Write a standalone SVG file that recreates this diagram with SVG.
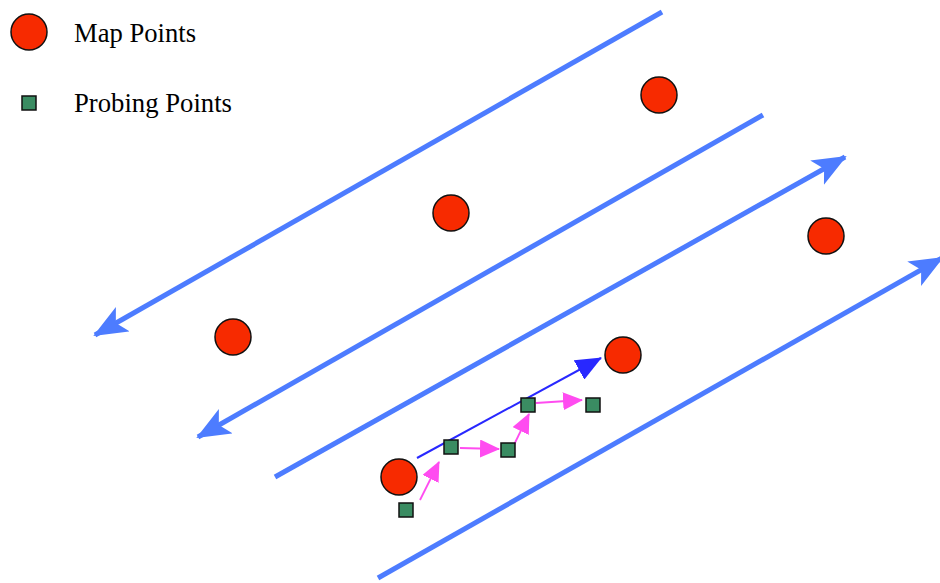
<svg xmlns="http://www.w3.org/2000/svg" width="940" height="583" viewBox="0 0 940 583">
<style>
.lbl{font-family:"Liberation Serif","Times New Roman",serif;font-size:27px;fill:#000}
.mp{fill:#f72a00;stroke:#111;stroke-width:1.5}
.pp{fill:#3a8c62;stroke:#111;stroke-width:1.5}
.big{stroke:#4d7cff;fill:none;stroke-width:5}
.blue{stroke:#2828ff;fill:none;stroke-width:2}
.pink{stroke:#ff4cf0;fill:none;stroke-width:1.8}
</style>
<defs>
<marker id="aBig" markerUnits="userSpaceOnUse" markerWidth="34" markerHeight="28" viewBox="0 0 34 28" refX="32" refY="14" orient="auto">
<path d="M0,0 L34,14 L0,28 L8,14 z" fill="#4d7cff"/>
</marker>
<marker id="aBlue" markerUnits="userSpaceOnUse" markerWidth="26" markerHeight="22" viewBox="0 0 26 22" refX="25" refY="11" orient="auto">
<path d="M0,0 L26,11 L0,22 z" fill="#2828ff"/>
</marker>
<marker id="aPink" markerUnits="userSpaceOnUse" markerWidth="20" markerHeight="18" viewBox="0 0 20 18" refX="19" refY="9" orient="auto">
<path d="M0,0 L20,9 L0,18 z" fill="#ff4cf0"/>
</marker>
</defs>
<g id="legend">
<circle class="mp" cx="29" cy="32" r="18"/>
<text class="lbl" x="74" y="42" textLength="122" lengthAdjust="spacingAndGlyphs">Map Points</text>
<rect class="pp" x="22" y="96" width="14" height="14"/>
<text class="lbl" x="74" y="112" textLength="158" lengthAdjust="spacingAndGlyphs">Probing Points</text>
</g>
<g id="connectors">
<line class="big" x1="662" y1="12" x2="95" y2="335" marker-end="url(#aBig)"/>
<line class="big" x1="763" y1="115" x2="198" y2="437" marker-end="url(#aBig)"/>
<line class="big" stroke-width="4" x1="275" y1="477" x2="845" y2="157" marker-end="url(#aBig)"/>
<line class="big" stroke-width="5.5" x1="378" y1="578" x2="942" y2="258" marker-end="url(#aBig)"/>
<line class="blue" x1="417" y1="458" x2="601" y2="358" marker-end="url(#aBlue)"/>
<line class="pink" x1="420" y1="500" x2="439" y2="462" marker-end="url(#aPink)"/>
<line class="pink" x1="460" y1="448" x2="499" y2="449" marker-end="url(#aPink)"/>
<line class="pink" x1="510" y1="453" x2="529" y2="414" marker-end="url(#aPink)"/>
<line class="pink" x1="536" y1="403" x2="582" y2="400" marker-end="url(#aPink)"/>
</g>
<g id="map-points">
<circle class="mp" cx="659" cy="95" r="18"/>
<circle class="mp" cx="451" cy="213" r="18"/>
<circle class="mp" cx="233" cy="337" r="18"/>
<circle class="mp" cx="826" cy="236" r="18"/>
<circle class="mp" cx="623" cy="355" r="18"/>
<circle class="mp" cx="399" cy="477" r="18"/>
</g>
<g id="probing-points">
<rect class="pp" x="399" y="503" width="14" height="14"/>
<rect class="pp" x="444" y="440" width="14" height="14"/>
<rect class="pp" x="501" y="443" width="14" height="14"/>
<rect class="pp" x="521" y="398" width="14" height="14"/>
<rect class="pp" x="586" y="398" width="14" height="14"/>
</g>
</svg>
